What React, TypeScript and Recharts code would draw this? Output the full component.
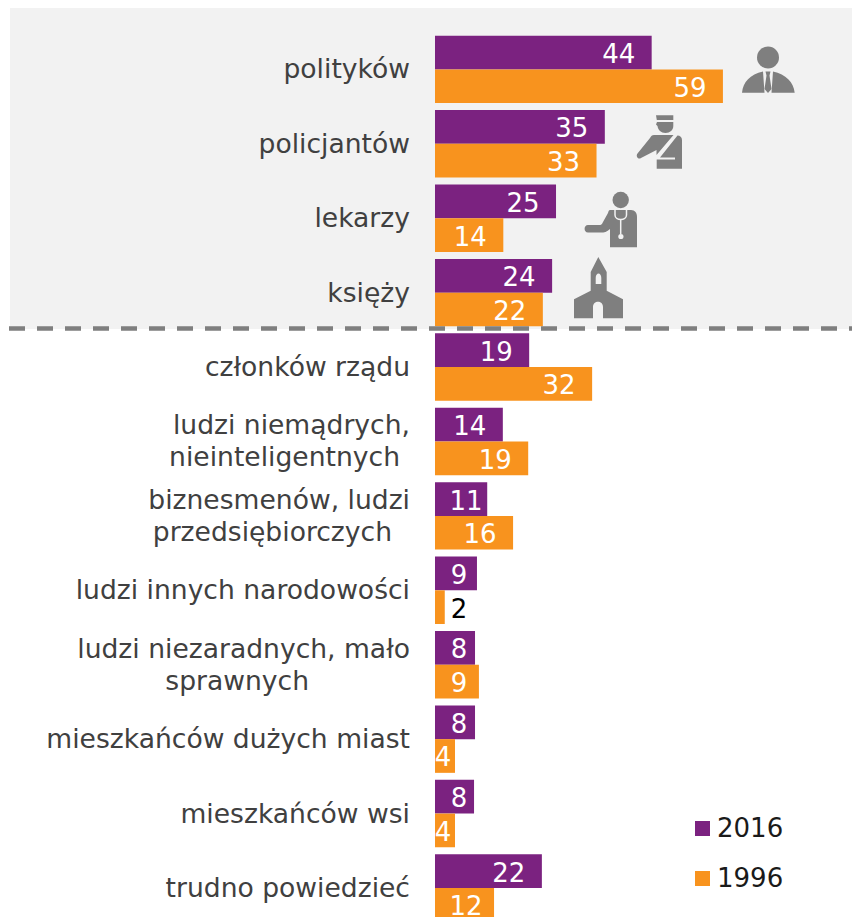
import { BarChart, Bar, XAxis, YAxis, LabelList } from 'recharts';

const FONT = '"DejaVu Sans", Verdana, sans-serif';
const PURPLE = '#7b2280';
const ORANGE = '#f8931e';
const ICON = '#7f7f7f';
const PANEL = '#f2f2f2';
const TEXT = '#404040';

const categories = [
  'polityków',
  'policjantów',
  'lekarzy',
  'księży',
  'członków rządu',
  'ludzi niemądrych,|nieinteligentnych',
  'biznesmenów, ludzi|przedsiębiorczych',
  'ludzi innych narodowości',
  'ludzi niezaradnych, mało|sprawnych',
  'mieszkańców dużych miast',
  'mieszkańców wsi',
  'trudno powiedzieć',
];
const values2016 = [44.4, 34.8, 24.8, 24, 19.3, 13.9, 10.7, 8.6, 8.2, 8.2, 8, 21.9];
const values1996 = [59, 33.1, 14, 22.1, 32.2, 19.1, 16, 2, 9, 4.1, 4.1, 12.1];
const legendItems = [
  ['2016', PURPLE],
  ['1996', ORANGE],
];

const tableData = categories.map((name, i) => ({
  name,
  y2016: values2016[i],
  y1996: values1996[i],
}));

// second lines of the wrapped labels sit centred, not flush right
const SECOND_LINE_SHIFT: Record<string, number> = {
  nieinteligentnych: -10,
  przedsiębiorczych: -18,
  sprawnych: -101,
};

function CategoryTick({ x, y, payload }: any) {
  const lines = String(payload.value).split('|');
  return (
    <text x={x} y={y} textAnchor="end" fontFamily={FONT} fontSize={26.6} fill={TEXT}>
      {lines.map((line, i) => (
        <tspan
          key={line}
          x={x + (SECOND_LINE_SHIFT[line] ?? 0)}
          y={y + (lines.length > 1 ? (i === 0 ? -16 : 16) : 0)}
          dominantBaseline="central"
        >
          {line}
        </tspan>
      ))}
    </text>
  );
}

function labelCenter(x: number, width: number, v: number) {
  if (v <= 2) return x + 24;
  if (v <= 5) return x + 8;
  if (v <= 10) return x + 24;
  if (v <= 12.5) return x + 31;
  return x + width - 33;
}

function ValueLabel({ x, y, width, height, value }: any) {
  const v = Number(value);
  return (
    <text
      x={labelCenter(x, width, v)}
      y={y + height / 2 + 1.5}
      textAnchor="middle"
      dominantBaseline="central"
      fontFamily={FONT}
      fontSize={26}
      fill={v <= 2 ? '#000' : '#fff'}
    >
      {Math.round(v)}
    </text>
  );
}

function LegendBox() {
  return (
    <div
      style={{
        position: 'absolute',
        left: 695,
        top: 803,
        fontFamily: FONT,
        fontSize: 26,
        color: '#1a1a1a',
      }}
    >
      {legendItems.map(([label, color]) => (
        <div key={label} style={{ display: 'flex', alignItems: 'center', height: 50 }}>
          <span style={{ width: 15, height: 15, background: color, marginRight: 7 }} />
          {label}
        </div>
      ))}
    </div>
  );
}

function Icons() {
  return (
    <svg
      width={852}
      height={917}
      style={{ position: 'absolute', left: 0, top: 0, pointerEvents: 'none' }}
    >
      <line x1={9} x2={852} y1={328.5} y2={328.5} stroke={ICON} strokeWidth={4.5} strokeDasharray="16 12" />

      {/* politician */}
      <g fill={ICON}>
        <circle cx={768} cy={57.5} r={11} />
        <path d="M742 92.7C743 82 750 74.5 763 71.5L764.5 92.7ZM794.7 92.7C793.5 82 786 74.5 773 71.5L771.5 92.7Z" />
        <path d="M765.5 71.5H770.5L769.5 75.5L771.5 89L768 93L764.5 89L766.5 75.5Z" />
      </g>

      {/* policeman */}
      <g fill={ICON}>
        <path d="M656 115.3H673.3V120H656.8Z" />
        <path d="M657 122H673.3V126C673.3 130 670 133 665.5 133C661 133 658 130 657.5 126L656 124.5Z" />
        <path d="M656.7 168.7V159.5H675V157.5H660L677.5 135.5C680 135.5 682 137 682 140V168.7Z" />
        <path d="M654 135H673.5L656.5 155V150L641 158C638 160 635.5 156 637.5 153.5L650 138C651 136 652 135 654 135Z" />
      </g>

      {/* doctor */}
      <g fill={ICON}>
        <circle cx={620.7} cy={200} r={8.2} />
        <path d="M610 210H631C635 210 637 213 637 217V247.3H610V229C607 232 604 232.5 601 232.5H588C583.5 232.5 583.5 225 588 225H599C601 225 602 224.5 603 222L608 213C608.5 211 609 210 610 210Z" />
        <g fill="none" stroke={PANEL} strokeWidth={1.5}>
          <path d="M615 210V215C615 221 626.5 221 626.5 215V210" />
          <path d="M620.7 219.5V234" />
        </g>
        <circle cx={620.9} cy={236.5} r={2.6} fill={PANEL} />
      </g>

      {/* church */}
      <path
        fill={ICON}
        fillRule="evenodd"
        d="M598.3 257L606.7 272V290.7L623 299.3V318.3H603V307C603 300 593 300 593 307V318.3H574V299.3L590.7 290.7V272ZM595.7 284H601.3V278C601.3 272 595.7 272 595.7 278Z"
      />
    </svg>
  );
}

export default function App() {
  return (
    <div style={{ position: 'fixed', left: 0, top: 0, width: 852, height: 917, overflow: 'hidden', background: '#fff' }}>
      <div style={{ position: 'absolute', left: 10, top: 8, width: 842, height: 321, background: PANEL }} />
      <BarChart
        width={852}
        height={925.6}
        data={tableData}
        layout="vertical"
        margin={{ top: 31.7, right: 124.2, bottom: 0.9, left: 0 }}
        barGap={0}
        barSize={33.7}
        style={{ position: 'absolute', left: 0, top: 0 }}
      >
        <XAxis type="number" domain={[0, 60]} hide />
        <YAxis
          type="category"
          dataKey="name"
          width={435}
          axisLine={false}
          tickLine={false}
          interval={0}
          tickMargin={19}
          tick={<CategoryTick />}
        />
        <Bar dataKey="y2016" fill={PURPLE} isAnimationActive={false}>
          <LabelList dataKey="y2016" content={<ValueLabel />} />
        </Bar>
        <Bar dataKey="y1996" fill={ORANGE} isAnimationActive={false}>
          <LabelList dataKey="y1996" content={<ValueLabel />} />
        </Bar>
      </BarChart>
      <LegendBox />
      <Icons />
    </div>
  );
}
